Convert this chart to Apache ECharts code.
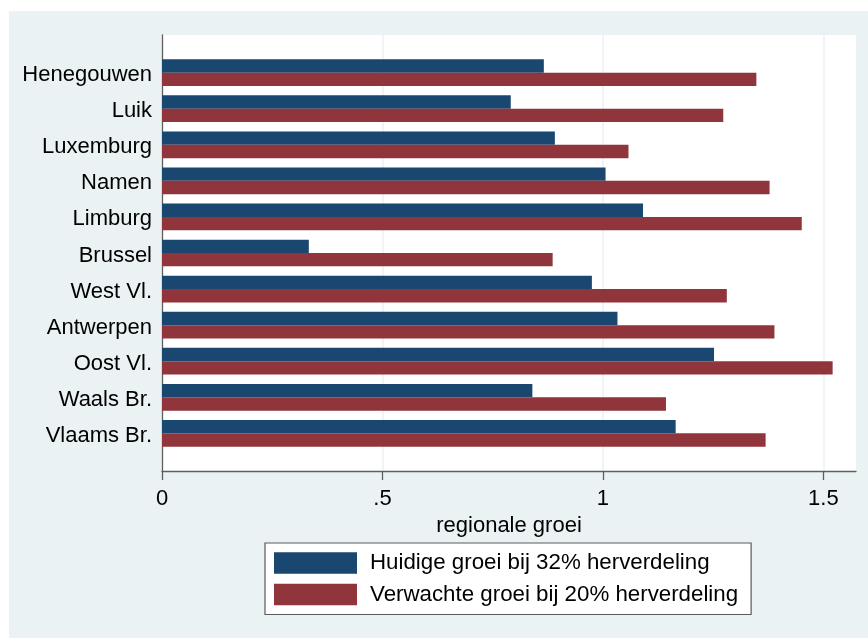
<!DOCTYPE html>
<html>
<head>
<meta charset="utf-8">
<script src="https://cdn.jsdelivr.net/npm/echarts@6/dist/echarts.min.js"></script>
<style>
html,body{margin:0;padding:0;background:#fff;}
#chart{width:868px;height:638px;}
</style>
</head>
<body>
<div id="chart"></div>
<script>
var categories = ['Henegouwen','Luik','Luxemburg','Namen','Limburg','Brussel','West Vl.','Antwerpen','Oost Vl.','Waals Br.','Vlaams Br.'];
var huidige = [0.866,0.791,0.891,1.006,1.091,0.333,0.975,1.033,1.252,0.840,1.165];
var verwachte = [1.348,1.273,1.058,1.378,1.451,0.886,1.281,1.389,1.521,1.143,1.369];
var seriesNames = ['Huidige groei bij 32% herverdeling','Verwachte groei bij 20% herverdeling'];
var tickValues = [0, 0.5, 1, 1.5];
var tickLabels = ['0', '.5', '1', '1.5'];
var axisTitle = 'regionale groei';

var FONT = 'Liberation Sans, Arial, Helvetica, sans-serif';
var chart = echarts.init(document.getElementById('chart'), null, {renderer:'canvas'});
var XMAX = 1.574;
var option = {
  backgroundColor: '#ffffff',
  animation: false,
  graphic: [{
    type: 'rect', z: -10, silent: true,
    shape: {x: 9, y: 11, width: 859, height: 627},
    style: {fill: '#eaf2f3'}
  }],
  grid: [
    {left: 162, right: 12, top: 35, bottom: 167, show: true, backgroundColor: '#ffffff', borderWidth: 0},
    {left: 162, right: 12, top: 54.6, bottom: 186.6, show: false}
  ],
  xAxis: [
    {
      type: 'value', gridIndex: 0, min: 0, max: XMAX, interval: 0.5,
      axisLine: {show: true, lineStyle: {color: '#5f5f5f', width: 1.3}},
      axisTick: {show: true, length: 9, customValues: tickValues, lineStyle: {color: '#5f5f5f', width: 1.3}},
      axisLabel: {
        customValues: tickValues, margin: 17, color: '#000', fontSize: 22, fontFamily: FONT,
        formatter: function (v) { var i = tickValues.indexOf(v); return i >= 0 ? tickLabels[i] : ''; }
      },
      splitLine: {show: true, lineStyle: {color: '#eaf2f3', width: 1.5}},
      name: axisTitle, nameLocation: 'middle', nameGap: 36,
      nameTextStyle: {color: '#000', fontSize: 22, fontFamily: FONT}
    },
    {
      type: 'value', gridIndex: 1, min: 0, max: XMAX, show: false,
      splitLine: {show: false}
    }
  ],
  yAxis: [
    {
      type: 'category', gridIndex: 0, data: [''],
      axisLine: {show: true, lineStyle: {color: '#5f5f5f', width: 1.3}},
      axisTick: {show: false}, axisLabel: {show: false}, splitLine: {show: false}
    },
    {
      type: 'category', gridIndex: 1, data: categories, inverse: true,
      axisLine: {show: false}, axisTick: {show: false},
      axisLabel: {
        margin: 10,
        formatter: function (v) { return '{l|' + v + '}'; },
        rich: {l: {color: '#000', fontSize: 22, fontFamily: FONT, padding: [5, 0, 0, 0]}}
      }
    }
  ],
  legend: {
    orient: 'vertical', left: 265, top: 543,
    itemWidth: 83, itemHeight: 21.5, itemGap: 9.5,
    padding: [9, 13, 9, 9],
    backgroundColor: '#ffffff', borderColor: '#5a5a5a', borderWidth: 1.2, borderRadius: 0,
    icon: 'rect',
    textStyle: {color: '#000', fontSize: 22.3, fontFamily: FONT, lineHeight: 22, padding: [0, 0, 0, 8]},
    data: seriesNames
  },
  series: [
    {
      name: seriesNames[0], type: 'bar', xAxisIndex: 1, yAxisIndex: 1,
      data: huidige, barGap: '0%', barCategoryGap: '26%',
      itemStyle: {color: '#1a476f'}
    },
    {
      name: seriesNames[1], type: 'bar', xAxisIndex: 1, yAxisIndex: 1,
      data: verwachte, barGap: '0%', barCategoryGap: '26%',
      itemStyle: {color: '#90353b'}
    }
  ]
};
chart.setOption(option);
</script>
</body>
</html>
